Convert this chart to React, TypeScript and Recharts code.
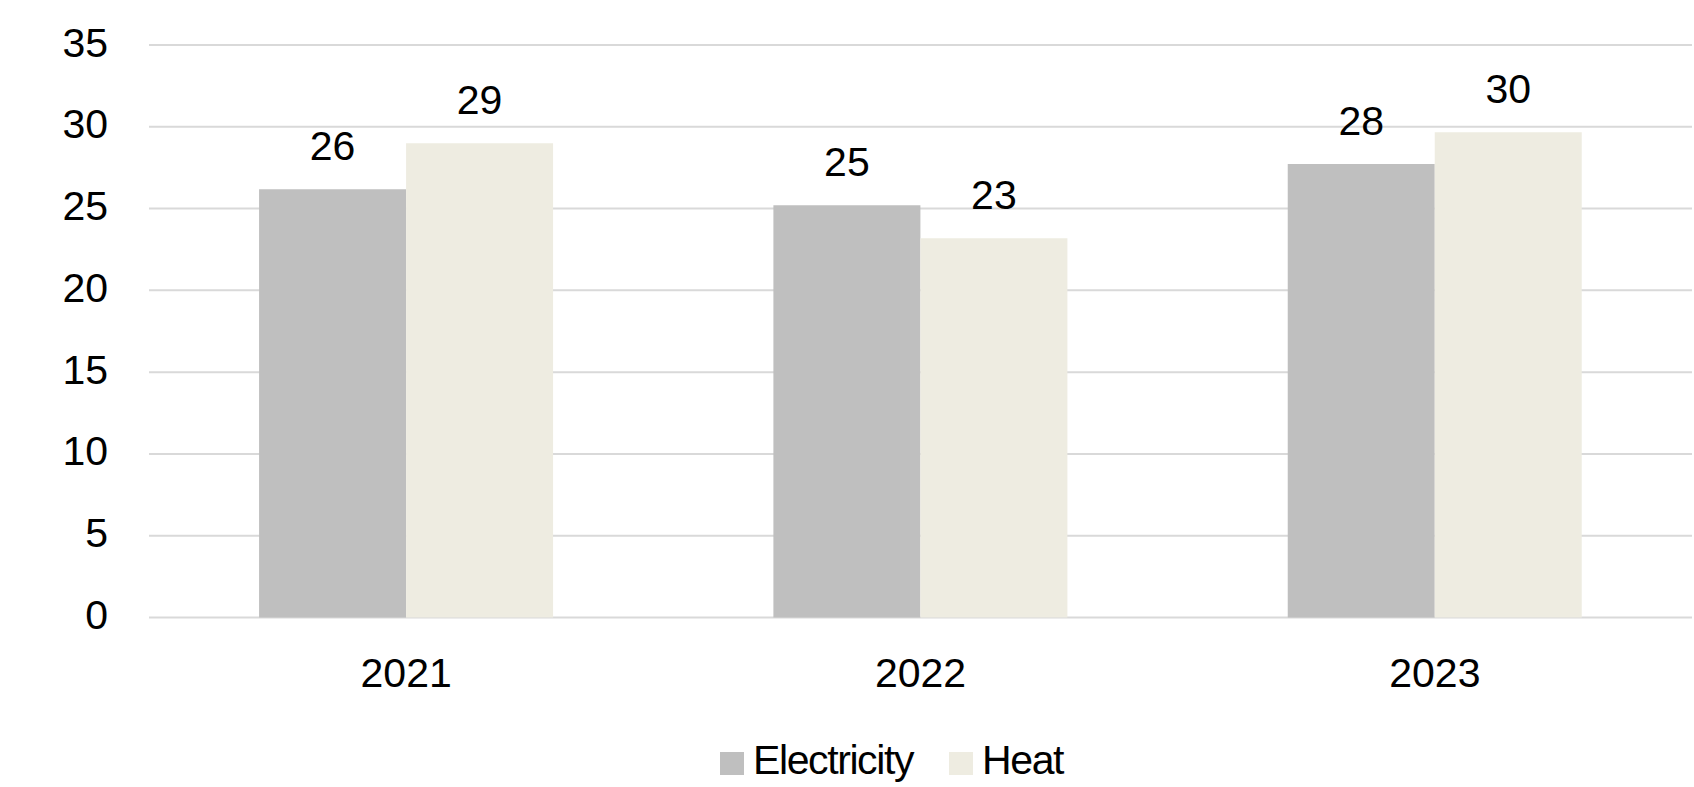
import React from "react";
import { BarChart, Bar, XAxis, YAxis, CartesianGrid, Legend, LabelList } from "recharts";

const categories = ["2021", "2022", "2023"];
const electricity = [26.18, 25.2, 27.72];
const heat = [28.99, 23.18, 29.66];
const yTicks = [0, 5, 10, 15, 20, 25, 30, 35];

const data = categories.map((year, i) => ({
  year,
  Electricity: electricity[i],
  Heat: heat[i],
}));

const FONT = "'Liberation Sans', Arial, sans-serif";
const ELEC_COLOR = "#bfbfbf";
const HEAT_COLOR = "#eeece1";

const LegendContent = (props: any) => {
  const payload = props.payload || [];
  return (
    <div
      style={{
        display: "flex",
        fontFamily: FONT,
        fontSize: 41,
        lineHeight: "41px",
        color: "#000",
        letterSpacing: "-1.4px",
        whiteSpace: "nowrap",
      }}
    >
      {payload.map((entry: any, i: number) => (
        <div
          key={i}
          style={{
            position: "relative",
            paddingLeft: 33,
            height: 41,
            marginRight: i < payload.length - 1 ? 36 : 0,
          }}
        >
          <div
            style={{
              position: "absolute",
              left: 0,
              top: 12,
              width: 24,
              height: 23,
              background: entry.color,
            }}
          />
          {entry.value}
        </div>
      ))}
    </div>
  );
};

export default function App() {
  return (
    <div style={{ position: "absolute", left: 0, top: 0 }}>
      <BarChart
        width={1694}
        height={787}
        data={data}
        margin={{ top: 45, right: 2, left: 0, bottom: 109.5 }}
        barCategoryGap="21.4%"
        barGap={0}
      >
        <CartesianGrid vertical={false} stroke="#d9d9d9" strokeWidth={2} />
        <XAxis
          dataKey="year"
          axisLine={false}
          tickLine={false}
          tickSize={0}
          tickMargin={40}
          height={60}
          tick={{ fill: "#000", fontSize: 41, fontFamily: FONT }}
        />
        <YAxis
          domain={[0, 35]}
          ticks={yTicks}
          axisLine={false}
          tickLine={false}
          tickSize={0}
          tickMargin={41}
          width={149}
          tick={{ fill: "#000", fontSize: 41, fontFamily: FONT, dy: -3 }}
        />
        <Legend
          layout="horizontal"
          verticalAlign="middle"
          align="center"
          content={<LegendContent />}
          wrapperStyle={{ left: 720, top: 740, width: "auto", height: 41 }}
        />
        <Bar dataKey="Electricity" fill={ELEC_COLOR} isAnimationActive={false}>
          <LabelList
            dataKey="Electricity"
            position="top"
            offset={29}
            formatter={(v: any) => Math.round(Number(v))}
            style={{ fill: "#000", fontSize: 41, fontFamily: FONT }}
          />
        </Bar>
        <Bar dataKey="Heat" fill={HEAT_COLOR} isAnimationActive={false}>
          <LabelList
            dataKey="Heat"
            position="top"
            offset={29}
            formatter={(v: any) => Math.round(Number(v))}
            style={{ fill: "#000", fontSize: 41, fontFamily: FONT }}
          />
        </Bar>
      </BarChart>
    </div>
  );
}
